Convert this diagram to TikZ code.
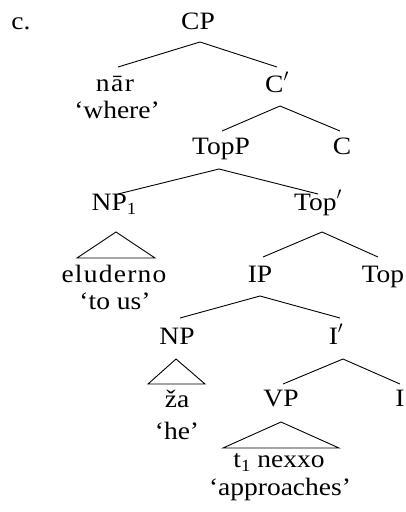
\documentclass[tikz,border=0pt]{standalone}
\usepackage{fontspec}
\setmainfont{Liberation Serif}[FakeStretch=1.1]
\newcommand{\lsub}[1]{\raisebox{-0.35ex}{\fontsize{17}{17}\selectfont #1}}
\newcommand{\pr}{\raisebox{0.1ex}{$'$}}
\tikzset{
  lbl/.style={anchor=base, inner sep=0pt, font=\fontsize{25}{25}\selectfont},
  br/.style={line width=0.9pt},
}
\begin{document}
\begin{tikzpicture}[x=1pt,y=-1pt]
\useasboundingbox (0,0) rectangle (406,512);
% labels
\node[lbl] (ex) at (21,29) {c.};
\node[lbl] (CP) at (198,29) {CP};
\node[lbl] (nar) at (115,91) {\addfontfeature{LetterSpace=6}nār};
\node[lbl] (where) at (117,118) {‘where’};
\node[lbl] (Cbar) at (277,92) {C\pr};
\node[lbl] (TopP) at (221,154) {TopP};
\node[lbl] (C) at (342,154) {C};
\node[lbl] (NP1) at (114,210) {NP\lsub{1}};
\node[lbl] (Topbar) at (318,210) {Top\pr};
\node[lbl] (elu) at (114,282) {\addfontfeature{LetterSpace=5}eluderno};
\node[lbl] (tous) at (115,309) {‘to us’};
\node[lbl] (IP) at (260,282) {IP};
\node[lbl] (Top) at (383,282) {Top};
\node[lbl] (NP) at (177,344) {NP};
\node[lbl] (Ibar) at (336,344) {I\pr};
\node[lbl] (za) at (177,407) {ža};
\node[lbl] (he) at (177,439) {‘he’};
\node[lbl] (VP) at (281,406) {VP};
\node[lbl] (I) at (400,406) {I};
\node[lbl] (tnex) at (279,467) {t\lsub{1} nexxo};
\node[lbl] (appr) at (280,495) {‘approaches’};
% branch points
\coordinate (CPd) at (200,42);
\coordinate (narU) at (118,67);
\coordinate (CbarU) at (277,67);
\coordinate (Cbard) at (280,106);
\coordinate (TopPU) at (222,131);
\coordinate (CU) at (340,131);
\coordinate (TopPd) at (219,169);
\coordinate (NP1U) at (118,194);
\coordinate (TopbarU) at (318,194);
\coordinate (NP1d) at (116,232);
\coordinate (NP1l) at (77,258);
\coordinate (NP1r) at (155,258);
\coordinate (Topbard) at (322,232);
\coordinate (IPU) at (263,257);
\coordinate (TopU) at (378,257);
\coordinate (IPd) at (260,296);
\coordinate (NPU) at (180,318);
\coordinate (IbarU) at (340,318);
\coordinate (NPd) at (176,359);
\coordinate (NPl) at (148,384);
\coordinate (NPr) at (205,384);
\coordinate (Ibard) at (343,359);
\coordinate (VPU) at (283,384);
\coordinate (IU) at (400,384);
\coordinate (VPd) at (281,422);
\coordinate (VPl) at (223,448);
\coordinate (VPr) at (339,448);
% branches
\draw[br] (narU) -- (CPd) -- (CbarU);
\draw[br] (TopPU) -- (Cbard) -- (CU);
\draw[br] (NP1U) -- (TopPd) -- (TopbarU);
\draw[br] (NP1l) -- (NP1d) -- (NP1r) -- cycle;
\draw[br] (IPU) -- (Topbard) -- (TopU);
\draw[br] (NPU) -- (IPd) -- (IbarU);
\draw[br] (NPl) -- (NPd) -- (NPr) -- cycle;
\draw[br] (VPU) -- (Ibard) -- (IU);
\draw[br] (VPl) -- (VPd) -- (VPr) -- cycle;
\end{tikzpicture}
\end{document}
